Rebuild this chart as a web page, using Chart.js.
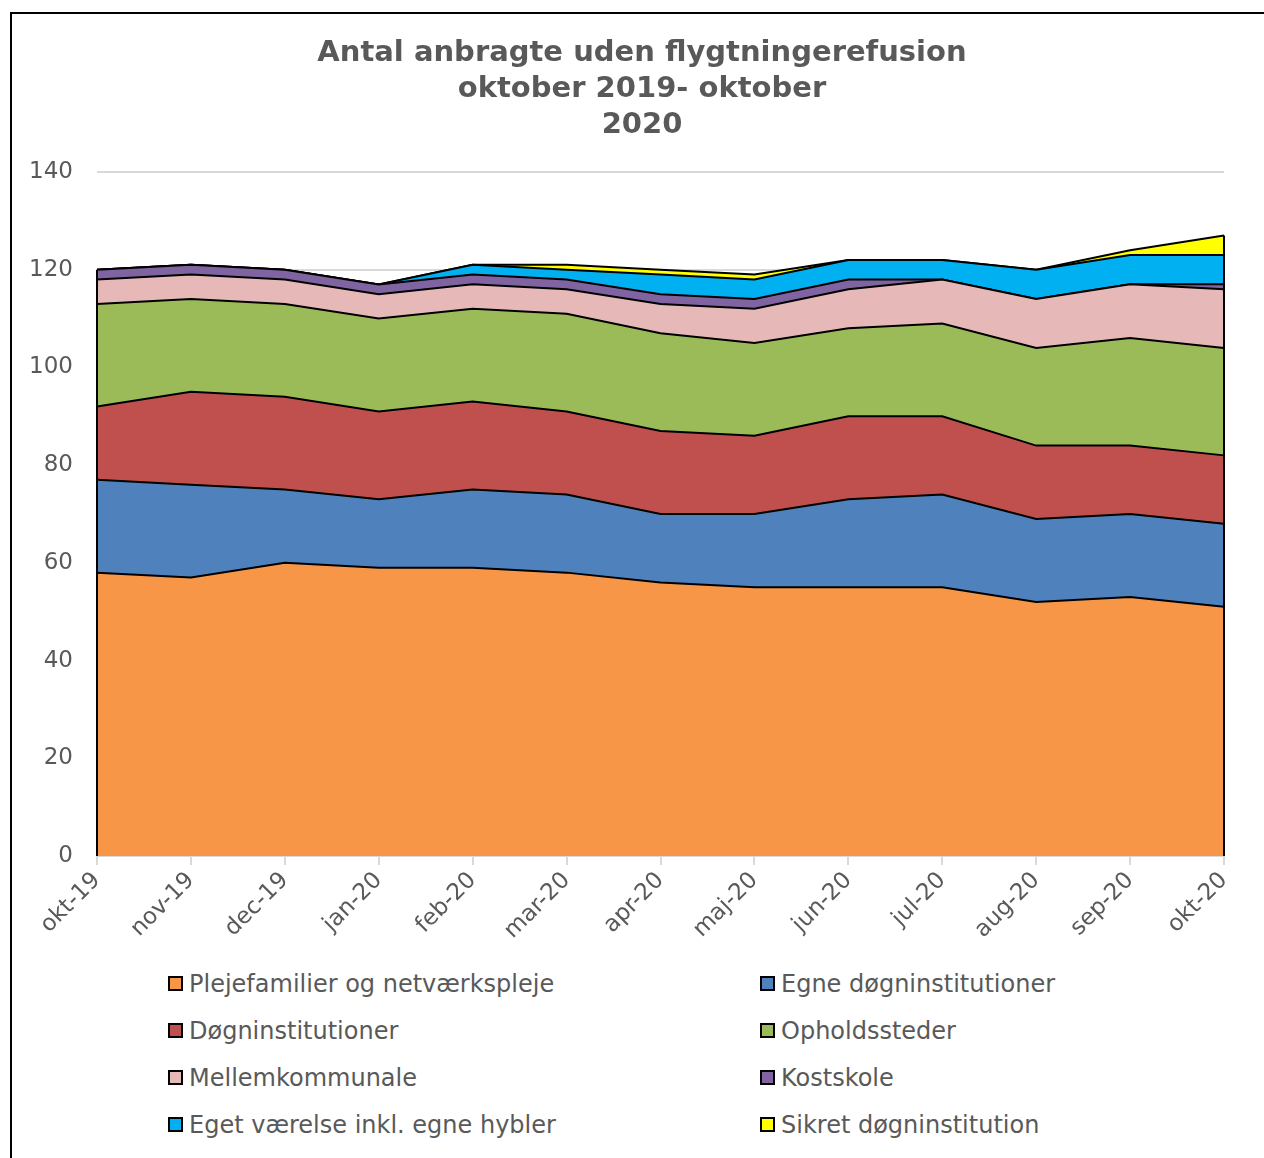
<!DOCTYPE html>
<html>
<head>
<meta charset="utf-8">
<script src="https://cdn.jsdelivr.net/npm/chart.js@4/dist/chart.umd.min.js"></script>
<style>
  html, body { margin: 0; padding: 0; background: #fff; }
  body { width: 1264px; height: 1158px; position: relative; overflow: hidden; font-family: "DejaVu Sans", Verdana, sans-serif; }
  #frame { position: absolute; left: 10px; top: 12px; width: 1400px; height: 1300px; border-left: 2px solid #000; border-top: 2px solid #000; }
  #title { position: absolute; left: 42px; top: 33px; width: 1200px; text-align: center; font-weight: bold; font-size: 29px; line-height: 36px; color: #595959; white-space: nowrap; }
  #wrap { position: absolute; left: 0; top: 0; width: 1264px; height: 960px; }
  #legend { position: absolute; left: 168px; top: 960px; display: grid; grid-template-columns: 592px 460px; }
  .item { display: flex; align-items: center; height: 47px; font-size: 24px; color: #595959; }
  .box { width: 11px; height: 11px; border: 2px solid #000; margin-right: 6px; }
</style>
</head>
<body>
<div id="frame"></div>
<div id="wrap"><canvas id="areaChart"></canvas></div>
<div id="title">Antal anbragte uden flygtningerefusion<br>oktober 2019- oktober<br>2020</div>
<div id="legend"></div>
<script>
(() => {
  const months = ['okt-19','nov-19','dec-19','jan-20','feb-20','mar-20','apr-20','maj-20','jun-20','jul-20','aug-20','sep-20','okt-20'];

  const plejefamilier = [58, 57, 60, 59, 59, 58, 56, 55, 55, 55, 52, 53, 51];
  const egneDogn      = [19, 19, 15, 14, 16, 16, 14, 15, 18, 19, 17, 17, 17];
  const dogninst      = [15, 19, 19, 18, 18, 17, 17, 16, 17, 16, 15, 14, 14];
  const opholdssteder = [21, 19, 19, 19, 19, 20, 20, 19, 18, 19, 20, 22, 22];
  const mellemkomm    = [5, 5, 5, 5, 5, 5, 6, 7, 8, 9, 10, 11, 12];
  const kostskole     = [2, 2, 2, 2, 2, 2, 2, 2, 2, 0, 0, 0, 1];
  const egetVaerelse  = [0, 0, 0, 0, 2, 2, 4, 4, 4, 4, 6, 6, 6];
  const sikret        = [0, 0, 0, 0, 0, 1, 1, 1, 0, 0, 0, 1, 4];

  const yTicks = [0, 20, 40, 60, 80, 100, 120, 140];

  const series = [
    { label: 'Plejefamilier og netværkspleje', data: plejefamilier, color: '#F79646' },
    { label: 'Egne døgninstitutioner', data: egneDogn, color: '#4F81BD' },
    { label: 'Døgninstitutioner', data: dogninst, color: '#C0504D' },
    { label: 'Opholdssteder', data: opholdssteder, color: '#9BBB59' },
    { label: 'Mellemkommunale', data: mellemkomm, color: '#E6B9B8' },
    { label: 'Kostskole', data: kostskole, color: '#8064A2' },
    { label: 'Eget værelse inkl. egne hybler', data: egetVaerelse, color: '#00B0F0' },
    { label: 'Sikret døgninstitution', data: sikret, color: '#FFFF00' }
  ];

  const FONT = '"DejaVu Sans", Verdana, sans-serif';
  const GREY = '#595959';

  // vertical outline at both ends of the stacked area, like the Excel original
  const edgeLines = {
    id: 'edgeLines',
    afterDatasetsDraw(chart) {
      const { ctx, scales: { x, y } } = chart;
      const last = months.length - 1;
      [0, last].forEach(i => {
        const total = series.reduce((s, d) => s + d.data[i], 0);
        const px = x.getPixelForValue(i);
        ctx.save();
        ctx.strokeStyle = '#000';
        ctx.lineWidth = 2;
        ctx.beginPath();
        ctx.moveTo(px, y.getPixelForValue(0));
        ctx.lineTo(px, y.getPixelForValue(total));
        ctx.stroke();
        ctx.restore();
      });
    }
  };

  new Chart(document.getElementById('areaChart'), {
    type: 'line',
    data: {
      labels: months,
      datasets: series.map((s, i) => ({
        label: s.label,
        data: s.data,
        backgroundColor: s.color,
        borderColor: '#000',
        borderWidth: 2,
        pointRadius: 0,
        tension: 0,
        fill: i === 0 ? 'origin' : '-1'
      }))
    },
    options: {
      responsive: true,
      maintainAspectRatio: false,
      animation: false,
      layout: { padding: { top: 172, right: 40, bottom: 0, left: 0 } },
      plugins: {
        legend: { display: false },
        tooltip: { enabled: false },
        title: { display: false }
      },
      scales: {
        x: {
          offset: false,
          grid: { display: true, drawOnChartArea: false, offset: false, color: '#d9d9d9', lineWidth: 2, tickLength: 9 },
          border: { color: '#d9d9d9', width: 2 },
          ticks: { color: GREY, font: { family: FONT, size: 23 }, maxRotation: 45, minRotation: 45, autoSkip: false, padding: 2 },
          afterFit(s) { s.height = 104; }
        },
        y: {
          stacked: true,
          min: 0,
          max: 140,
          afterBuildTicks(s) { s.ticks = yTicks.map(v => ({ value: v })); },
          grid: { color: '#d9d9d9', lineWidth: 2, drawTicks: false },
          border: { display: false },
          ticks: { color: GREY, font: { family: FONT, size: 23 }, padding: 24 },
          afterFit(s) { s.width = 97; }
        }
      }
    },
    plugins: [edgeLines]
  });

  const legend = document.getElementById('legend');
  series.forEach(s => {
    const item = document.createElement('div');
    item.className = 'item';
    item.innerHTML = `<span class="box" style="background:${s.color}"></span><span>${s.label}</span>`;
    legend.appendChild(item);
  });
})();
</script>
</body>
</html>
